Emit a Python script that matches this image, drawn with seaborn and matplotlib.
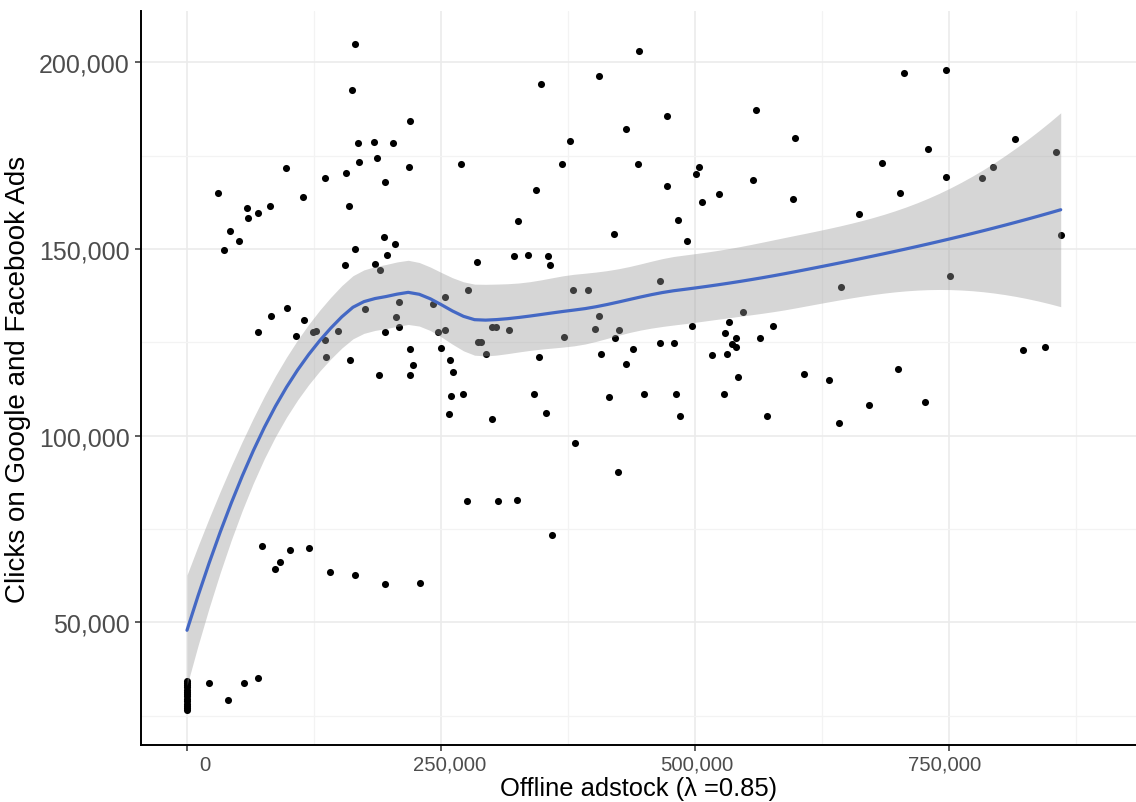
import numpy as np
import pandas as pd
import matplotlib
matplotlib.use("Agg")
import matplotlib.pyplot as plt
import matplotlib.transforms as mtransforms
from matplotlib.ticker import FuncFormatter, MultipleLocator
import seaborn as sns

adstock_k = [
    165.6, 162.7, 219.8, 168.0, 184.4, 203.1, 186.7, 169.0, 218.5, 269.7,
    97.4, 135.5, 156.2, 195.2, 30.2, 114.1, 58.7, 69.6, 82.0, 60.0,
    159.4, 42.8, 50.9, 36.7, 193.6, 204.4, 165.1, 197.3, 155.5, 185.3,
    190.0, 285.1, 208.4, 175.5, 206.1, 209.1, 195.2, 242.4, 253.6, 276.9,
    247.3, 254.3, 286.7, 289.4, 69.6, 82.4, 98.0, 115.5, 106.9, 123.7,
    126.7, 136.2, 149.1, 136.5, 160.4, 219.5, 249.7, 258.6, 222.1, 261.5,
    188.6, 219.5, 260.2, 271.6, 258.1, 276.0, 73.5, 86.3, 91.2, 101.4,
    119.8, 140.4, 165.6, 194.6, 229.0, 21.7, 40.4, 56.4, 69.9,
    0.0, 0.0, 0.0, 0.0, 0.0, 0.0, 0.0, 0.0, 0.0, 0.0, 0.0, 0.0, 0.0, 0.0,
    444.6, 405.2, 348.7, 472.1, 559.7, 598.4, 432.0, 377.0, 369.1, 444.0,
    504.2, 500.6, 343.5, 472.1, 556.8, 523.3, 507.2, 596.5, 325.8, 483.0,
    420.6, 492.4, 322.2, 335.6, 355.6, 357.3, 379.6, 395.0, 465.2, 405.2,
    401.9, 425.5, 371.0, 421.3, 300.2, 303.8, 317.2, 294.0, 346.2, 407.1,
    439.0, 431.8, 465.9, 479.0, 497.3, 547.2, 533.5, 529.8, 540.7, 536.4,
    540.0, 577.1, 564.0, 517.0, 531.8, 541.8, 607.0, 341.2, 415.4, 449.5,
    480.9, 528.8, 299.9, 353.0, 485.2, 571.2, 382.2, 424.2, 306.4, 324.8,
    359.3, 705.2, 747.4, 815.0, 729.6, 684.1, 747.4, 793.1, 782.2, 855.3,
    701.8, 661.4, 859.9, 644.0, 751.0, 823.1, 844.8, 631.6, 699.5, 641.7,
    671.6, 726.4,
]
clicks_k = [
    204.8, 192.5, 184.3, 178.4, 178.6, 178.4, 174.4, 173.4, 172.0, 172.8,
    171.6, 169.1, 170.3, 167.8, 165.0, 163.8, 161.0, 159.6, 161.4, 158.3,
    161.4, 154.7, 152.0, 149.6, 153.1, 151.3, 150.0, 148.4, 145.6, 146.1,
    144.4, 146.4, 135.9, 133.9, 131.7, 129.1, 127.8, 135.2, 137.2, 138.9,
    127.9, 128.4, 125.0, 125.2, 127.7, 132.0, 134.3, 130.9, 126.7, 127.7,
    128.1, 125.5, 128.1, 121.2, 120.3, 123.3, 123.4, 120.3, 118.9, 117.1,
    116.3, 116.2, 110.7, 111.1, 105.9, 82.4, 70.5, 64.2, 66.1, 69.4,
    69.9, 63.6, 62.8, 60.3, 60.6, 33.9, 29.3, 33.8, 35.2,
    34.3, 33.8, 33.3, 32.6, 32.0, 31.4, 30.8, 30.2, 29.6, 29.0, 28.3, 27.6,
    27.0, 26.5,
    203.1, 196.3, 194.2, 185.6, 187.2, 179.6, 182.2, 178.9, 172.8, 172.8,
    172.0, 170.0, 165.8, 166.8, 168.4, 164.8, 162.5, 163.3, 157.4, 157.8,
    153.9, 152.0, 148.0, 148.4, 148.0, 145.7, 138.9, 138.9, 141.5, 132.0,
    128.6, 128.4, 126.5, 126.2, 129.1, 129.0, 128.3, 121.9, 121.0, 122.0,
    123.2, 119.1, 124.7, 124.8, 129.4, 133.1, 130.4, 127.6, 126.1, 124.5,
    123.7, 129.4, 126.1, 121.5, 121.8, 115.6, 116.4, 111.2, 110.3, 111.2,
    111.1, 111.3, 104.6, 106.0, 105.3, 105.3, 98.0, 90.4, 82.4, 82.7,
    73.4, 197.0, 197.9, 179.5, 176.8, 173.0, 169.4, 172.0, 169.0, 175.9,
    164.9, 159.4, 153.8, 139.7, 142.8, 122.9, 123.7, 115.0, 117.8, 103.5,
    108.2, 108.9,
]

df = pd.DataFrame({"adstock": np.array(adstock_k) * 1000,
                   "clicks": np.array(clicks_k) * 1000})


# loess like R (span 0.75, degree 2, kd-tree vertices + cubic interpolation)
def local_fit(x, x0, q):
    d = np.abs(x - x0)
    h = np.sort(d)[q - 1]
    w = np.clip(1 - (d / h) ** 3, 0, None) ** 3
    X = np.column_stack([np.ones(len(x)), x - x0, (x - x0) ** 2])
    XtW = X.T * w
    B = np.linalg.solve(XtW @ X, XtW)
    return B[0], B[1]


def kd_vertices(x, fc):
    lo, hi = x.min(), x.max()
    mu = 0.005 * (hi - lo)
    verts = {lo - mu, hi + mu}

    def split(a, b):
        pts = np.sort(x[(x >= a) & (x <= b)])
        if len(pts) <= fc:
            return
        m = np.median(pts)
        if m <= a or m >= b:
            return
        verts.add(m)
        split(a, m)
        split(m, b)

    split(lo - mu, hi + mu)
    return np.array(sorted(verts))


def loess_operator(x, pts, span=0.75):
    n = len(x)
    q = int(np.floor(n * span))
    fc = int(np.floor(n * span * 0.2))
    v = kd_vertices(x, fc)
    val, der = zip(*[local_fit(x, vv, q) for vv in v])
    val, der = np.array(val), np.array(der)
    rows = []
    for p in pts:
        i = min(max(np.searchsorted(v, p) - 1, 0), len(v) - 2)
        h = v[i + 1] - v[i]
        t = (p - v[i]) / h
        h00 = 2 * t ** 3 - 3 * t ** 2 + 1
        h10 = t ** 3 - 2 * t ** 2 + t
        h01 = -2 * t ** 3 + 3 * t ** 2
        h11 = t ** 3 - t ** 2
        rows.append(h00 * val[i] + h10 * h * der[i]
                    + h01 * val[i + 1] + h11 * h * der[i + 1])
    return np.array(rows)


xs = df["adstock"].to_numpy() / 1e6
ys = df["clicks"].to_numpy()
grid = np.linspace(xs.min(), xs.max(), 80)
L = loess_operator(xs, xs)
G = loess_operator(xs, grid)
M = np.eye(len(xs)) - L
MM = M.T @ M
delta1 = np.trace(MM)
delta2 = np.trace(MM @ MM)
sigma = np.sqrt(np.sum((M @ ys) ** 2) / delta1)
dof = delta1 ** 2 / delta2
tval = 1.96 + 2.4 / dof
fit = G @ ys
se = sigma * np.sqrt(np.sum(G ** 2, axis=1))
smooth = pd.DataFrame({"adstock": grid * 1e6, "fit": fit,
                       "lo": fit - tval * se, "hi": fit + tval * se})

sns.set_theme(style="whitegrid")
plt.rcParams["font.family"] = ["Liberation Sans", "DejaVu Sans"]

fig = plt.figure(figsize=(11.36, 8.03), dpi=100)
ax = fig.add_axes([0.1241, 0.071, 0.8759, 0.914])

sns.scatterplot(data=df, x="adstock", y="clicks", color="black", s=26,
                linewidth=0, ax=ax, zorder=3)
ax.fill_between(smooth["adstock"], smooth["lo"], smooth["hi"],
                color="#999999", alpha=0.4, linewidth=0, zorder=4)
sns.lineplot(data=smooth, x="adstock", y="fit", color="#4468C4",
             linewidth=2.3, ax=ax, zorder=5)

ax.set_xlim(-45300, 934000)
ax.set_ylim(17200, 213700)

ax.xaxis.set_major_locator(MultipleLocator(250000))
ax.xaxis.set_minor_locator(MultipleLocator(125000))
ax.yaxis.set_major_locator(MultipleLocator(50000))
ax.yaxis.set_minor_locator(MultipleLocator(25000))
fmt = FuncFormatter(lambda v, p: f"{int(round(v)):,}")
ax.xaxis.set_major_formatter(fmt)
ax.yaxis.set_major_formatter(fmt)

ax.set_facecolor("white")
ax.grid(which="major", color="#EBEBEB", linewidth=1.2, zorder=0)
ax.grid(which="minor", color="#F3F3F3", linewidth=0.9, zorder=0)
ax.set_axisbelow(True)

for side in ["top", "right"]:
    ax.spines[side].set_visible(False)
for side in ["left", "bottom"]:
    ax.spines[side].set_color("black")
    ax.spines[side].set_linewidth(1.4)

ax.tick_params(axis="both", which="major", length=4, width=1.1,
               color="#333333", bottom=True, left=True)
ax.tick_params(axis="both", which="minor", length=0)
ax.tick_params(axis="x", labelsize=14.6, labelcolor="#4D4D4D", pad=3)
ax.tick_params(axis="y", labelsize=18, labelcolor="#4D4D4D", pad=4)

ax.set_xlabel("Offline adstock (λ =0.85)", fontsize=18.4, color="black",
              labelpad=2)
ax.set_ylabel("Clicks on Google and Facebook Ads", fontsize=20,
              color="black", labelpad=6)

fig.canvas.draw()
# the x labels in the reference sit a little right of their ticks
shifts = {0: 18, 250000: 9, 500000: 2, 750000: -4}
for tick in ax.xaxis.get_major_ticks():
    key = int(round(tick.get_loc()))
    if key in shifts:
        off = mtransforms.ScaledTranslation(shifts[key] / 100, 0,
                                            fig.dpi_scale_trans)
        tick.label1.set_transform(tick.label1.get_transform() + off)

fig.savefig("out.png", dpi=100)
